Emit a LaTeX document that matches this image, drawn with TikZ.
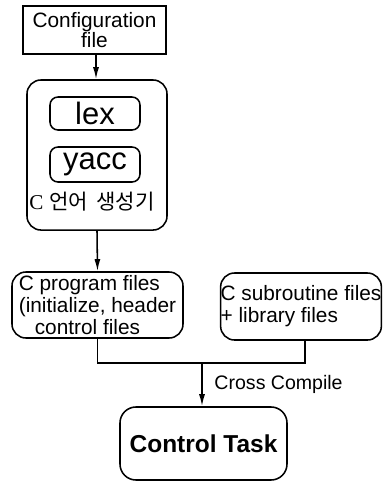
\documentclass[tikz,border=0pt]{standalone}
\usepackage{fontspec}
\setmainfont{Liberation Sans}
\newfontfamily\kofont{Noto Sans CJK KR}
\newfontfamily\serfont{Liberation Serif}
\usetikzlibrary{arrows.meta,calc}

\begin{document}
\begin{tikzpicture}[x=0.025cm,y=-0.025cm,line width=1.1pt,
  >={Latex[length=3mm,width=1.5mm]},
  filebox/.style={draw,inner sep=1pt,font=\fontsize{14.8}{15.5}\selectfont},
  roundbox/.style={filebox,rounded corners=0.35cm},
  toolbox/.style={draw,rounded corners=0.2cm,minimum width=2.25cm,
    font=\fontsize{22}{22}\selectfont}]
\useasboundingbox (0,0) rectangle (391,483);

% input and generator
\node[filebox,align=center,minimum width=3.575cm,minimum height=1.2cm,
  font=\fontsize{14.8}{13.5}\selectfont] (conf) at (94.5,30)
  {Configuration\\file};
\node[roundbox,minimum width=3.5cm,minimum height=3.75cm] (gen) at (97,155) {};
\node[toolbox,minimum height=0.825cm] (lex) at (95,113.5) {lex};
\node[toolbox,minimum height=0.875cm] (yacc) at (95,164.5) {yacc};
\node[font=\fontsize{15}{15}\selectfont] (genlbl) at (92,202)
  {{\serfont C} \kofont 언어 \,생성기};

% generated and library files
\node[roundbox,align=left,minimum width=4.275cm,minimum height=1.65cm,
  inner xsep=0pt] (prog) at (97.5,305)
  {C program files\\(initialize, header\\\hspace*{0.4cm}control files};
\node[roundbox,align=left,minimum width=4cm,minimum height=1.675cm,
  inner xsep=0pt] (sub) at (301,306.5)
  {C subroutine files\\+ library files\hspace*{1.05cm}};

\node[draw,rounded corners=0.4cm,minimum width=4.175cm,minimum height=1.825cm,
  font=\fontsize{17.4}{17}\selectfont\bfseries] (task) at (203.5,443.5)
  {Control Task};

\coordinate (join) at (202,363);

\draw[->] (conf.south -| 96,0) -- (gen.north -| 96,0);
\draw[->] (gen.south) -- (prog.north);
\draw (prog.south) |- (join) -| (sub.south -| 305,0);
\draw[->] (join) -- (task.north -| join)
  node[pos=0.5,right=5pt,font=\fontsize{13.9}{14}\selectfont] (cc) {Cross Compile};

\end{tikzpicture}
\end{document}
